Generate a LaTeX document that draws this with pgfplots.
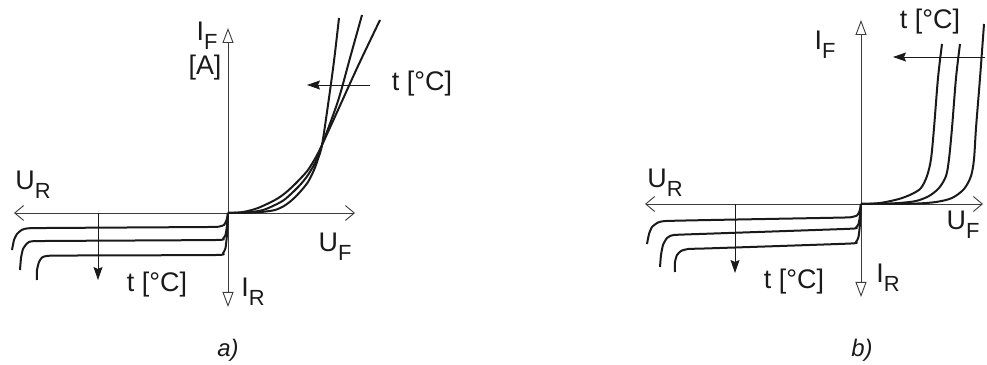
\documentclass[border=0pt]{standalone}
\usepackage{pgfplots}
\pgfplotsset{compat=1.18}
\usetikzlibrary{arrows.meta}
\usepackage{fontspec}
\setmainfont{Liberation Sans}

\definecolor{ink}{HTML}{1A1A1A}
\definecolor{axisgray}{HTML}{3C3C3C}

% quantity with a lowered index, e.g. U_F
\newcommand\qty[2]{#1\raisebox{-0.32em}{\fontsize{22}{22}\selectfont #2}}

\tikzset{
  lbl/.style={font=\fontsize{27}{27}\selectfont, text=ink, inner sep=0pt},
  panelcap/.style={font=\fontsize{24}{24}\selectfont\itshape, text=ink, inner sep=0pt},
}
\pgfplotsset{
  diode/.style={scale only axis, height=365bp, hide axis, clip=false,
    anchor=south west},
  curve/.style={ink, line width=2bp, smooth, tension=0.5, mark=none,
    line join=round},
  rcurve/.style={curve, tension=0.3},
  haxis/.style={axisgray, line width=0.9bp, mark=none,
    arrows={Straight Barb[length=9bp,width=15bp]-Straight Barb[length=9bp,width=15bp]}},
  vaxis/.style={axisgray, line width=0.9bp, mark=none,
    arrows={Triangle[open,length=15bp,width=11bp]-Triangle[open,length=15bp,width=11bp]}},
  tarrow/.style={ink, line width=0.9bp, mark=none,
    arrows={-Stealth[length=13bp,width=9bp,inset=2bp]}},
}

\begin{document}
\begin{tikzpicture}

%% ---------------- a) ----------------
\begin{axis}[diode, at={(0,0)}, width=493bp,
  xmin=-228, xmax=265, ymin=-152, ymax=213]
  \path (rel axis cs:0,0) rectangle (rel axis cs:1,1);
  % axes
  \addplot[haxis] coordinates {(-214,0) (127,0)};
  \addplot[vaxis] coordinates {(0,-94) (0,185)};
  % forward characteristics (crossing point)
  \addplot[curve] coordinates {(0,0) (20,0.3) (35,1.2) (47,3) (56,7) (64,13)
    (72,21) (80,31) (86,43) (90,54) (94,68) (100,108) (106,152) (111,195)};
  \addplot[curve] coordinates {(0,0) (20,0.6) (35,3) (47,8) (56,13) (64,20)
    (72,28) (80,38) (88,52) (94,68) (110,112) (122,155) (134,198)};
  \addplot[curve] coordinates {(0,0) (15,1) (30,5) (47,13) (56,19) (64,26)
    (72,34) (80,43) (88,56) (94,68) (110,103) (130,147) (152,193)};
  % reverse characteristics
  \addplot[rcurve] coordinates {(-216,-37) (-214,-27) (-211,-21) (-206,-16.8)
    (-198,-15.2) (-150,-14.8) (-20,-14) (-9,-13.6) (-4,-12) (-1.8,-8) (-0.7,-4) (0,0)};
  \addplot[rcurve] coordinates {(-208,-57) (-207,-45) (-205,-36) (-201,-30.5)
    (-195,-28.2) (-150,-27.8) (-12,-27) (-5,-25.5) (-2.5,-22) (-1.2,-14) (-0.5,-6) (0,0)};
  \addplot[rcurve] coordinates {(-191,-67) (-191,-57) (-189,-49) (-186,-44.5)
    (-180,-42.8) (-150,-42.5) (-12,-42) (-5,-40.3) (-2.5,-35) (-1.3,-25) (-0.5,-12) (0,0)};
  % temperature arrows
  \addplot[tarrow] coordinates {(142,128) (79,128)};
  \addplot[tarrow] coordinates {(-130,0) (-130,-67)};
  % labels
  \node[lbl] at (axis cs:-195,28) {\qty{U}{R}};
  \node[lbl] at (axis cs:107,-34) {\qty{U}{F}};
  \node[lbl] at (axis cs:-21,177) {\qty{I}{F}};
  \node[lbl] at (axis cs:-23,145) {[A]};
  \node[lbl] at (axis cs:25,-79) {\qty{I}{R}};
  \node[lbl] at (axis cs:194,129) {t [°C]};
  \node[lbl] at (axis cs:-71,-72) {t [°C]};
  \node[panelcap] at (axis cs:0,-137) {a)};
\end{axis}

%% ---------------- b) ----------------
\begin{axis}[diode, at={(493bp,0)}, width=494bp,
  xmin=-368, xmax=126, ymin=-161, ymax=204]
  \path (rel axis cs:0,0) rectangle (rel axis cs:1,1);
  % axes
  \addplot[haxis] coordinates {(-216,0) (122,0)};
  \addplot[vaxis] coordinates {(0,-93) (0,184)};
  % forward characteristics, shifted with temperature
  \addplot[curve] coordinates {(0,0) (10,0.3) (21,1.3) (38,5) (51,10) (60,16)
    (66,28) (70,45) (73,76) (77,126) (81,160)};
  \addplot[curve] coordinates {(0,0) (20,0.2) (38,1) (55,3) (68,8) (78,16)
    (85,28) (88,45) (91,76) (95,126) (99,160)};
  \addplot[curve] coordinates {(0,0) (30,0.1) (55,0.4) (75,2) (91,6) (103,15)
    (110,28) (113,45) (115,76) (119,126) (123,180)};
  % reverse characteristics
  \addplot[rcurve] coordinates {(-214,-40) (-212,-30) (-209,-23) (-203,-18.5)
    (-195,-17) (-150,-16) (-20,-13.6) (-9,-13) (-4,-11.5) (-1.8,-8) (-0.7,-4) (0,0)};
  \addplot[rcurve] coordinates {(-201,-63) (-200,-51) (-198,-41) (-194,-34)
    (-187,-31) (-150,-29.6) (-12,-24.8) (-5,-23.5) (-2.5,-20) (-1.2,-13) (-0.5,-6) (0,0)};
  \addplot[rcurve] coordinates {(-186,-68) (-186,-58) (-184,-51) (-180,-47)
    (-173,-45) (-150,-44.3) (-12,-39.6) (-5,-38) (-2.5,-33) (-1.3,-23) (-0.5,-11) (0,0)};
  % temperature arrows
  \addplot[tarrow] coordinates {(124,147) (32,147)};
  \addplot[tarrow] coordinates {(-126,0) (-126,-69)};
  % labels
  \node[lbl] at (axis cs:-196,21) {\qty{U}{R}};
  \node[lbl] at (axis cs:102,-21) {\qty{U}{F}};
  \node[lbl] at (axis cs:-36,159) {\qty{I}{F}};
  \node[lbl] at (axis cs:27,-74) {\qty{I}{R}};
  \node[lbl] at (axis cs:69,182) {t [°C]};
  \node[lbl] at (axis cs:-67,-78) {t [°C]};
  \node[panelcap] at (axis cs:1,-146) {b)};
\end{axis}

\end{tikzpicture}
\end{document}
